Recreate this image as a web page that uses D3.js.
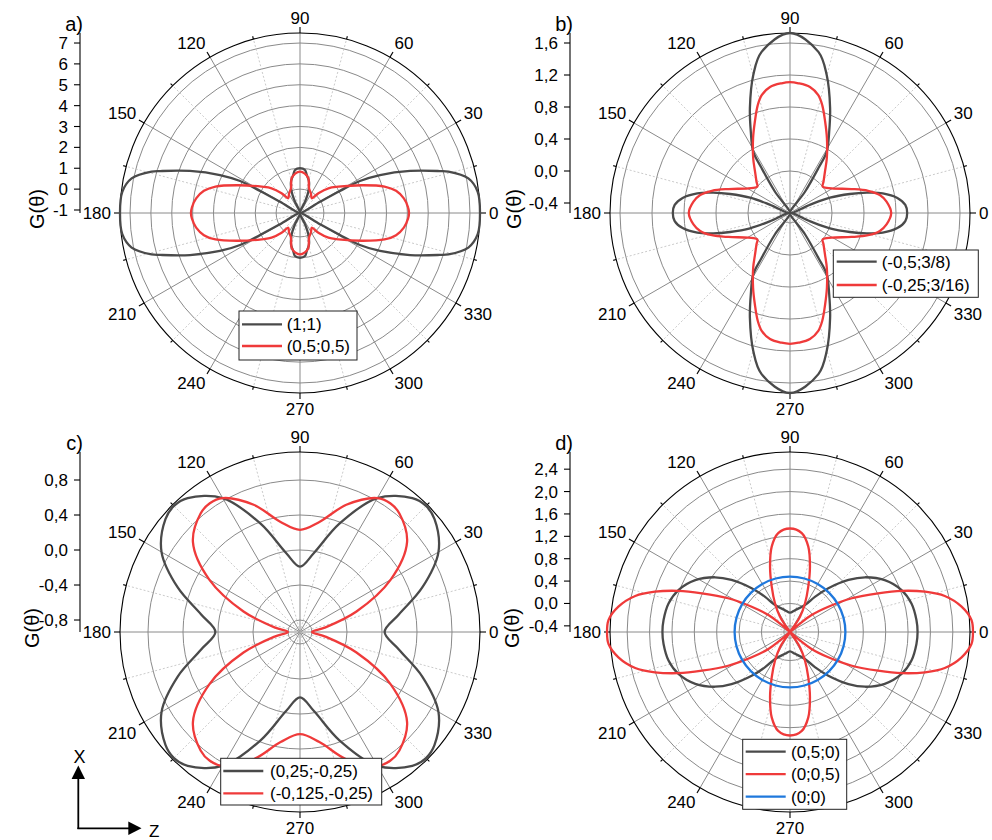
<!DOCTYPE html>
<html><head><meta charset="utf-8">
<script src="https://cdn.jsdelivr.net/npm/d3@7"></script>
<style>
body{margin:0;background:#fff}
svg{display:block}
text{font-family:Arial,"Liberation Sans",sans-serif;fill:#000}
</style>
</head><body>
<svg id="chart" width="992" height="840"></svg>
<script>
// ---------------- data ----------------
const angleLabels = [0,30,60,90,120,150,180,210,240,270,300,330];
const panelLetters = ["a)","b)","c)","d)"];
const yTitle = "G(θ)";

const aTicks = [-1,0,1,2,3,4,5,6,7];
const bTicks = [-0.4,0,0.4,0.8,1.2,1.6];
const cTicks = [-0.8,-0.4,0,0.4,0.8];
const dTicks = [-0.4,0,0.4,0.8,1.2,1.6,2.0,2.4];

const aDomain = [-1.144, 7.48];
const bDomain = [-0.525, 1.725];
const cDomain = [-0.937, 1.12];
const dDomain = [-0.51, 2.707];

// quarter patterns (0..90 deg), the figures are symmetric about both axes
const aBlackTheta = [0, 6.8, 11.6, 15.6, 16.7, 20.9, 25.4, 28.1, 28.8, 29.2, 47, 66, 68.7, 74, 80, 83.4, 90];
const aBlackG     = [7.48, 7.43, 7.09, 6.24, 5.85, 4.50, 3.10, 2.11, 1.04, -0.05, -1.14, -0.55, -0.05, 0.42, 0.71, 0.93, 1.00];
const aRedTheta   = [0, 3, 8, 13, 17.4, 24.2, 34.5, 41, 47, 51.5, 60, 70, 76.5, 83, 90];
const aRedG       = [4.08, 4.04, 3.88, 3.58, 3.10, 2.10, 1.08, 0.66, 0.15, -0.24, -0.09, 0.12, 0.57, 0.76, 0.84];

const bBlackTheta = [0, 4, 8, 12, 14.8, 17.6, 21, 22.5, 38, 54.8, 57.7, 59.1, 64.2, 69.1, 75.1, 80, 90];
const bBlackG     = [0.94, 0.92, 0.83, 0.66, 0.47, 0.26, 0.01, -0.25, -0.525, -0.20, 0.14, 0.37, 0.60, 0.88, 1.26, 1.52, 1.725];
const bRedTheta   = [0, 6.7, 11.3, 15.9, 21.3, 30.6, 38.8, 43.2, 49.7, 56.1, 63.8, 69, 73.3, 76.5, 81, 86.3, 90];
const bRedG       = [0.74, 0.69, 0.62, 0.49, 0.30, 0.08, 0.0, 0.05, 0.15, 0.30, 0.52, 0.70, 0.88, 0.99, 1.07, 1.10, 1.11];

const cBlackTheta = [0, 10, 20, 30, 40, 45, 50, 60, 70, 80, 90];
const cBlackG     = [0.03, 0.21, 0.55, 0.89, 1.07, 1.10, 1.06, 0.83, 0.38, -0.02, -0.19];
const cRedTheta   = [0, 10, 20, 30, 40, 50, 55, 60, 70, 80, 90];
const cRedG       = [-0.80, -0.65, -0.25, 0.26, 0.66, 0.83, 0.86, 0.83, 0.61, 0.34, 0.23];

const dBlackTheta = [0, 5.4, 13.2, 20.6, 28.7, 36.1, 41.7, 48.8, 54.7, 61, 77.1, 90];
const dBlackG     = [1.77, 1.76, 1.72, 1.62, 1.42, 1.15, 0.89, 0.53, 0.26, 0.04, -0.11, -0.165];
const dRedTheta   = [0, 3.8, 8.4, 13.1, 16.6, 20.2, 23.7, 28.6, 33.4, 38.1, 40.1, 47, 54.5, 56.8, 62.4, 68, 73, 77.9, 83.2, 90];
const dRedG       = [2.76, 2.74, 2.59, 2.33, 2.01, 1.62, 1.21, 0.75, 0.31, -0.02, -0.32, -0.51, -0.36, -0.18, 0.07, 0.36, 0.71, 1.05, 1.27, 1.34];
const dBlueTheta  = [0, 15, 30, 45, 60, 75, 90];
const dBlueG      = [0.48, 0.48, 0.48, 0.48, 0.48, 0.48, 0.48];

const aLegend = ["(1;1)", "(0,5;0,5)"];
const bLegend = ["(-0,5;3/8)", "(-0,25;3/16)"];
const cLegend = ["(0,25;-0,25)", "(-0,125,-0,25)"];
const dLegend = ["(0,5;0)", "(0;0,5)", "(0;0)"];

// ---------------- styles / layout ----------------
const COL = {black:"#4a4a4a", red:"#ef3a3a", blue:"#1f78dc"};
const R = 180;

const panels = [
  {cx:300, cy:213, letter:panelLetters[0], ticks:aTicks, domain:aDomain, fmt:d=>String(d), titleOff:43,
   series:[{t:aBlackTheta,g:aBlackG,c:COL.black,name:aLegend[0]},{t:aRedTheta,g:aRedG,c:COL.red,name:aLegend[1]}],
   legend:{x:-61,y:98,w:118,h:49,lineX:3,row0:13.3,rowH:21.7,textX:47.7}},
  {cx:790, cy:213, letter:panelLetters[1], ticks:bTicks, domain:bDomain, fmt:d=>d.toFixed(1).replace(".",","), titleOff:56,
   series:[{t:bBlackTheta,g:bBlackG,c:COL.black,name:bLegend[0]},{t:bRedTheta,g:bRedG,c:COL.red,name:bLegend[1]}],
   legend:{x:43.3,y:37,w:145,h:47.3,lineX:3.4,row0:11.7,rowH:23.3,textX:48.4}},
  {cx:300, cy:632, letter:panelLetters[2], ticks:cTicks, domain:cDomain, fmt:d=>d.toFixed(1).replace(".",","), titleOff:48,
   series:[{t:cBlackTheta,g:cBlackG,c:COL.black,name:cLegend[0]},{t:cRedTheta,g:cRedG,c:COL.red,name:cLegend[1]}],
   legend:{x:-79.3,y:126.3,w:161,h:46.7,lineX:2.6,row0:12.7,rowH:22.3,textX:49.3}},
  {cx:790, cy:632, letter:panelLetters[3], ticks:dTicks, domain:dDomain, fmt:d=>d.toFixed(1).replace(".",","), titleOff:58,
   series:[{t:dBlackTheta,g:dBlackG,c:COL.black,name:dLegend[0]},{t:dRedTheta,g:dRedG,c:COL.red,name:dLegend[1]},{t:dBlueTheta,g:dBlueG,c:COL.blue,name:dLegend[2]}],
   legend:{x:-47.3,y:107.3,w:104,h:70,lineX:3,row0:12.4,rowH:22.5,textX:48.3}}
];

const svg = d3.select("#chart");
const rad = Math.PI/180;

function fullPattern(theta, g){
  // mirror the quarter data into four quadrants, in increasing angle order
  const pts = [];
  const n = theta.length;
  for (let i=0;i<n;i++) pts.push([theta[i], g[i]]);
  for (let i=n-2;i>=0;i--) pts.push([180-theta[i], g[i]]);
  for (let i=1;i<n;i++) pts.push([180+theta[i], g[i]]);
  for (let i=n-2;i>=1;i--) pts.push([360-theta[i], g[i]]);
  return pts;
}

panels.forEach(p => {
  const r = d3.scaleLinear().domain(p.domain).range([0, R]);
  const g = svg.append("g").attr("transform", `translate(${p.cx},${p.cy})`);

  // grid circles
  g.selectAll("circle.grid").data(p.ticks.filter(t => r(t) > 0.5)).join("circle")
    .attr("r", d => r(d)).attr("fill","none").attr("stroke","#8a8a8a").attr("stroke-width",1);

  // radial spokes
  const spokes = d3.range(0, 360, 15);
  g.selectAll("line.spoke").data(spokes).join("line")
    .attr("x1",0).attr("y1",0)
    .attr("x2", d => R*Math.cos(d*rad)).attr("y2", d => -R*Math.sin(d*rad))
    .attr("stroke", d => d%30===0 ? "#8a8a8a" : "#c4c4c4")
    .attr("stroke-width", d => d%30===0 ? 1 : 0.9)
    .attr("stroke-dasharray", d => d%30===0 ? null : "2,2");

  // outer circle + angular ticks
  g.append("circle").attr("r", R).attr("fill","none").attr("stroke","#000").attr("stroke-width",1.1);
  g.selectAll("line.atick").data(spokes).join("line")
    .attr("x1", d => R*Math.cos(d*rad)).attr("y1", d => -R*Math.sin(d*rad))
    .attr("x2", d => (R + (d%30===0 ? 6 : 3))*Math.cos(d*rad))
    .attr("y2", d => -(R + (d%30===0 ? 6 : 3))*Math.sin(d*rad))
    .attr("stroke","#000").attr("stroke-width",1.1);

  // angle labels
  g.selectAll("text.alab").data(angleLabels).join("text")
    .attr("font-size", 17)
    .each(function(d){
      const c = Math.cos(d*rad), s = Math.sin(d*rad);
      const gap = 9;
      let x = (R+gap)*c, y = -(R+gap)*s;
      let anchor = c > 0.3 ? "start" : (c < -0.3 ? "end" : "middle");
      if (s > 0.3) { /* baseline at point */ }
      else if (s < -0.3) y += 12.5;
      else y += 6;
      d3.select(this).attr("x", x).attr("y", y).attr("text-anchor", anchor).text(d);
    });

  // curves
  const line = d3.lineRadial()
    .angle(d => (90 - d[0]) * rad)
    .radius(d => r(d[1]))
    .curve(d3.curveCatmullRomClosed.alpha(0.5));
  p.series.forEach(s => {
    g.append("path").attr("d", line(fullPattern(s.t, s.g)))
      .attr("fill","none").attr("stroke", s.c).attr("stroke-width", 2.3)
      .attr("stroke-linejoin","round");
  });

  // radial axis on the left
  const ax = -220;
  const ay = d3.scaleLinear().domain(p.domain).range([0, -R]);
  g.append("line").attr("x1",ax).attr("x2",ax).attr("y1",0).attr("y2",-R)
    .attr("stroke","#000").attr("stroke-width",1.1);
  g.selectAll("line.ytick").data(p.ticks).join("line")
    .attr("x1",ax-6).attr("x2",ax).attr("y1",d=>ay(d)).attr("y2",d=>ay(d))
    .attr("stroke","#000").attr("stroke-width",1.1);
  g.selectAll("text.ylab").data(p.ticks).join("text")
    .attr("x", ax-12).attr("y", d=>ay(d)+6).attr("text-anchor","end")
    .attr("font-size",17).text(p.fmt);

  g.append("text").attr("x", ax+3).attr("y", -182).attr("text-anchor","end")
    .attr("font-size",20).text(p.letter);
  g.append("text").attr("transform", `translate(${ax-p.titleOff},-4) rotate(-90)`)
    .attr("text-anchor","middle").attr("dominant-baseline","central")
    .attr("font-size",20).text(yTitle);

  // legend
  const L = p.legend;
  const lg = g.append("g").attr("transform", `translate(${L.x},${L.y})`);
  lg.append("rect").attr("width",L.w).attr("height",L.h).attr("fill","#fff")
    .attr("stroke","#222").attr("stroke-width",1);
  p.series.forEach((s,i) => {
    const yy = L.row0 + i*L.rowH;
    lg.append("line").attr("x1",L.lineX).attr("x2",L.lineX+40).attr("y1",yy).attr("y2",yy)
      .attr("stroke", s.c).attr("stroke-width",2.3);
    lg.append("text").attr("x", L.textX).attr("y", yy+6).attr("font-size",17).text(s.name);
  });
});

// X / Z orientation arrows
const ar = svg.append("g");
ar.append("line").attr("x1",78.3).attr("y1",829).attr("x2",78.3).attr("y2",778).attr("stroke","#000").attr("stroke-width",1.8);
ar.append("path").attr("d","M71.6,779 L85,779 L78.3,765.5 Z").attr("fill","#000");
ar.append("line").attr("x1",77.4).attr("y1",828.3).attr("x2",129).attr("y2",828.3).attr("stroke","#000").attr("stroke-width",1.8);
ar.append("path").attr("d","M128.3,821.6 L128.3,835 L141.5,828.3 Z").attr("fill","#000");
ar.append("text").attr("x",79.5).attr("y",763).attr("text-anchor","middle").attr("font-size",18).text("X");
ar.append("text").attr("x",149).attr("y",837).attr("font-size",17).text("Z");
</script>
</body></html>
